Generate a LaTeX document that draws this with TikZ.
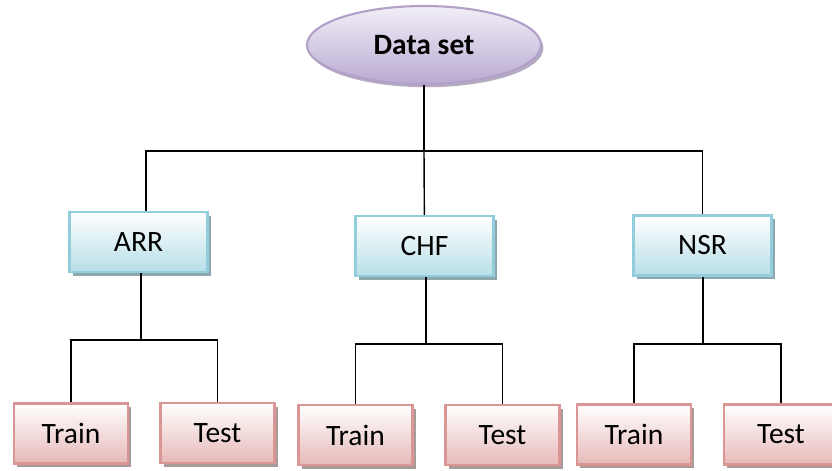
\documentclass[tikz,border=0pt]{standalone}
\usepackage{fontspec}
\setmainfont{Carlito}
\usetikzlibrary{shapes.geometric, shadows}
\definecolor{setline}{HTML}{B1A0C7}
\definecolor{settop}{HTML}{F2EFF7}
\definecolor{setbot}{HTML}{B9AAD2}
\definecolor{catline}{HTML}{92CDDC}
\definecolor{catfill}{HTML}{B7DEE8}
\definecolor{catshade}{HTML}{8DA7AE}
\definecolor{splitline}{HTML}{D99694}
\definecolor{splitfill}{HTML}{E6B9B8}
\definecolor{splitshade}{HTML}{A99A9A}

\begin{document}
\begin{tikzpicture}[x=0.025cm, y=-0.025cm,
    font=\fontsize{21}{25}\selectfont,
    setnode/.style={ellipse, draw=setline, line width=1.5pt, top color=settop, bottom color=setbot,
        minimum width=5.85cm, minimum height=1.95cm, inner sep=0pt,
        drop shadow={shadow xshift=0.06cm, shadow yshift=-0.08cm, fill=setline!70!gray, opacity=0.8}},
    catbox/.style={rectangle, draw=catline, line width=1.5pt, top color=white, bottom color=catfill,
        minimum width=3.45cm, minimum height=1.5cm,
        drop shadow={shadow xshift=0.08cm, shadow yshift=-0.09cm, fill=catshade, opacity=1}},
    splitbox/.style={rectangle, draw=splitline, line width=1.5pt, top color=white, bottom color=splitfill,
        minimum width=2.85cm, minimum height=1.5cm,
        drop shadow={shadow xshift=0.08cm, shadow yshift=-0.09cm, fill=splitshade, opacity=1}},
    link/.style={draw=black, line width=1pt}]
    \useasboundingbox (0,0) rectangle (832,470);

    \node[setnode] (ds) at (424,45) {\textbf{Data set}};

    \node[catbox] (arr) at (138.5,242) {ARR};
    \node[catbox] (chf) at (424.5,246) {CHF};
    \node[catbox] (nsr) at (702.5,245.5) {NSR};

    \node[splitbox] (trainA) at (71,433.5) {Train};
    \node[splitbox] (testA) at (217.5,433) {Test};
    \node[splitbox] (trainC) at (355.5,435) {Train};
    \node[splitbox] (testC) at (502.5,435) {Test};
    \node[splitbox] (trainN) at (634,434.5) {Train};
    \node[splitbox] (testN) at (781,434.5) {Test};

    \coordinate (top) at (424,151);
    \coordinate (jA) at (141,340);
    \coordinate (jC) at (426,344);
    \coordinate (jN) at (703,344);

    \draw[link] (ds) -- (top);
    \draw[link] ([xshift=0.19cm]arr.north) |- (top) -| (nsr.north);
    \draw[link] (top) -- (chf);

    \draw[link] (jA |- arr.south) -- (jA);
    \draw[link] (trainA.north) |- (jA) -| (testA.north);
    \draw[link] (jC |- chf.south) -- (jC);
    \draw[link] (trainC.north) |- (jC) -| (testC.north);
    \draw[link] (jN |- nsr.south) -- (jN);
    \draw[link] (trainN.north) |- (jN) -| (testN.north);
\end{tikzpicture}
\end{document}
